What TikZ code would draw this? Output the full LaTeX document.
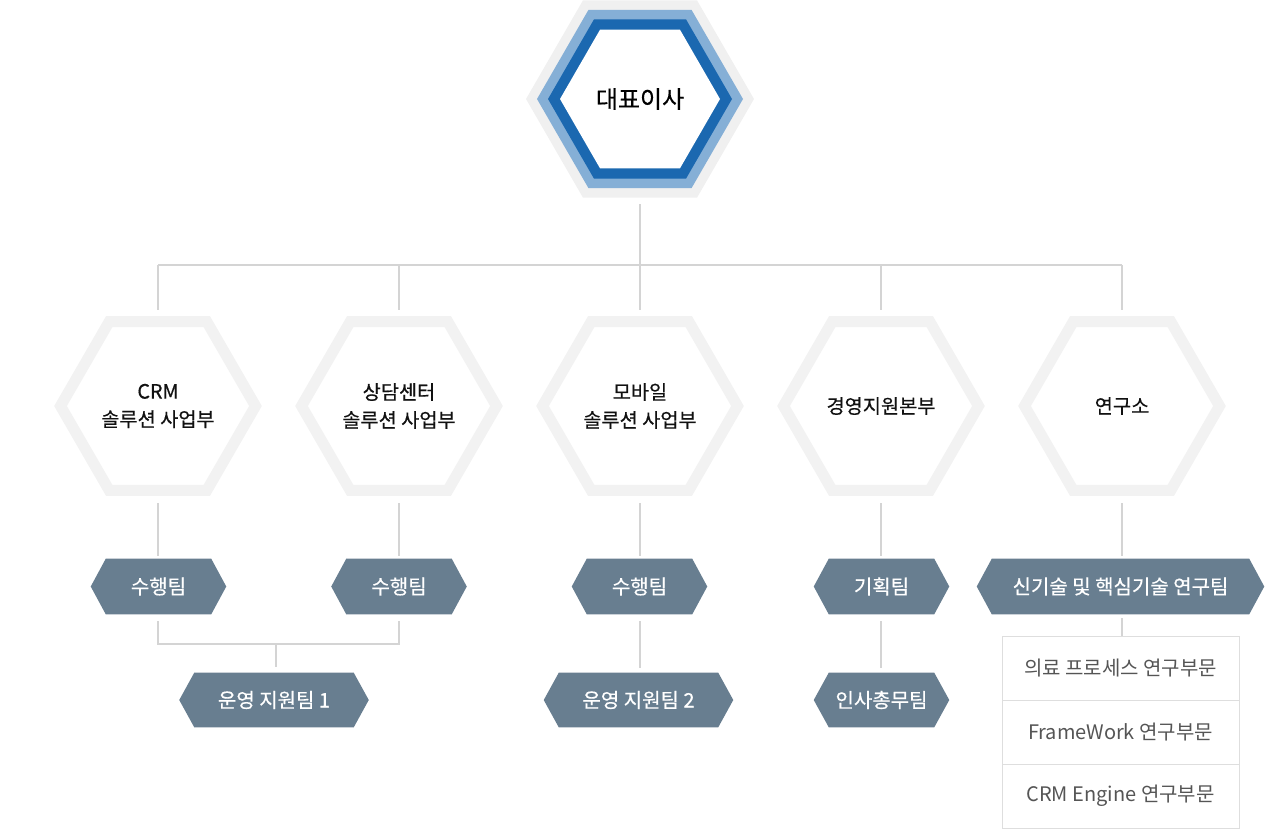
\documentclass[tikz,border=0pt]{standalone}
\usepackage{fontspec}
\setmainfont{Noto Sans CJK KR}
\newfontfamily\medfont{Noto Sans CJK KR}[AutoFakeBold=0.5]
\usetikzlibrary{backgrounds}
\definecolor{outergray}{HTML}{F0F0F0}
\definecolor{ringgray}{HTML}{F2F2F2}
\definecolor{lightblue}{HTML}{85AFD6}
\definecolor{darkblue}{HTML}{1B68B0}
\definecolor{tagfill}{HTML}{687E90}
\definecolor{linegray}{HTML}{D4D4D4}
\definecolor{boxline}{HTML}{DEDEDE}
\definecolor{boxtext}{HTML}{555555}
\definecolor{hextext}{HTML}{111111}
\newcommand\myhex[3]{\path[#1] ([shift={(0:#3)}]#2.center) -- ([shift={(60:#3)}]#2.center) -- ([shift={(120:#3)}]#2.center) -- ([shift={(180:#3)}]#2.center) -- ([shift={(240:#3)}]#2.center) -- ([shift={(300:#3)}]#2.center) -- cycle;}
\newcommand\mytag[1]{\fill[tagfill] (#1.west) -- ([xshift=11.25pt]#1.north west) -- ([xshift=-11.25pt]#1.north east) -- (#1.east) -- ([xshift=-11.25pt]#1.south east) -- ([xshift=11.25pt]#1.south west) -- cycle;}
\begin{document}
\begin{tikzpicture}[x=0.75pt,y=-0.75pt,
  hexlabel/.style={align=center,inner sep=0pt,text=hextext,font=\medfont\bfseries\fontsize{14.8}{21}\selectfont},
  ceolabel/.style={inner sep=0pt,text=black,font=\medfont\bfseries\fontsize{18}{22}\selectfont},
  tagnode/.style={inner sep=0pt,minimum height=41.25pt,text=white,font=\medfont\bfseries\fontsize{15}{18}\selectfont},
  boxrow/.style={draw=boxline,line width=0.75pt,inner sep=0pt,minimum width=177.75pt,minimum height=48pt,text=boxtext,font=\fontsize{15}{18}\selectfont},
  ringstyle/.style={draw=ringgray,fill=white,line width=8.25pt,line join=miter},
  conn/.style={draw=linegray,line width=0.9pt}]
\useasboundingbox (0,0) rectangle (1280,829);

% top node
\node[ceolabel] (ceo) at (640,99) {대표이사};

% department hexagons
\node[hexlabel] (crm) at (158,406) {CRM\\솔루션 사업부};
\node[hexlabel] (center) at (399,406) {상담센터\\솔루션 사업부};
\node[hexlabel] (mobile) at (640,406) {모바일\\솔루션 사업부};
\node[hexlabel] (mgmt) at (881,406) {경영지원본부};
\node[hexlabel] (lab) at (1122,406) {연구소};

% tags row 1
\node[tagnode,minimum width=101.25pt] (t1) at (158.5,586.5) {수행팀};
\node[tagnode,minimum width=101.25pt] (t2) at (399,586.5) {수행팀};
\node[tagnode,minimum width=101.25pt] (t3) at (639.5,586.5) {수행팀};
\node[tagnode,minimum width=101.25pt] (t4) at (881.5,586.5) {기획팀};
\node[tagnode,minimum width=215.25pt] (t5) at (1120.5,586.5) {신기술 및 핵심기술 연구팀};

% tags row 2
\node[tagnode,minimum width=141.75pt,minimum height=40.5pt] (u1) at (274,700) {운영 지원팀 1};
\node[tagnode,minimum width=141.75pt,minimum height=40.5pt] (u2) at (638.5,700) {운영 지원팀 2};
\node[tagnode,minimum width=101.25pt,minimum height=40.5pt] (u4) at (881.5,700) {인사총무팀};

% research list
\node[boxrow] (r1) at (1120.5,668) {의료 프로세스 연구부문};
\node[boxrow] (r2) at (1120.5,732) {FrameWork 연구부문};
\node[boxrow] (r3) at (1120.5,796) {CRM Engine 연구부문};

\begin{pgfonlayer}{background}
  \myhex{fill=outergray}{ceo}{114}
  \myhex{fill=lightblue}{ceo}{103}
  \myhex{fill=darkblue}{ceo}{92}
  \myhex{fill=white}{ceo}{80}
  \myhex{ringstyle}{crm}{97.5}
  \myhex{ringstyle}{center}{97.5}
  \myhex{ringstyle}{mobile}{97.5}
  \myhex{ringstyle}{mgmt}{97.5}
  \myhex{ringstyle}{lab}{97.5}
  \mytag{t1}\mytag{t2}\mytag{t3}\mytag{t4}\mytag{t5}
  \mytag{u1}\mytag{u2}\mytag{u4}
\end{pgfonlayer}

% connector coordinates
\coordinate (ceo-s) at (640,204);
\coordinate (bus-m) at (640,265);
\coordinate (bus-1) at (158,265);
\coordinate (bus-2) at (399,265);
\coordinate (bus-4) at (881,265);
\coordinate (bus-5) at (1122,265);
\coordinate (crm-n) at (158,310);
\coordinate (center-n) at (399,310);
\coordinate (mobile-n) at (640,310);
\coordinate (mgmt-n) at (881,310);
\coordinate (lab-n) at (1122,310);
\coordinate (crm-s) at (158,503);
\coordinate (center-s) at (399,503);
\coordinate (mobile-s) at (640,503);
\coordinate (mgmt-s) at (881,503);
\coordinate (lab-s) at (1122,503);
\coordinate (t1-in) at (158,556);
\coordinate (t2-in) at (399,556);
\coordinate (t3-in) at (640,556);
\coordinate (t4-in) at (881,556);
\coordinate (t5-in) at (1122,556);
\coordinate (t1-out) at (158,621);
\coordinate (t2-out) at (399,621);
\coordinate (t3-out) at (640,621);
\coordinate (t4-out) at (881,621);
\coordinate (t5-out) at (1122,618);
\coordinate (j1) at (158,644);
\coordinate (j2) at (399,644);
\coordinate (jm) at (276,644);
\coordinate (u1-in) at (276,667);
\coordinate (u2-in) at (640,668);
\coordinate (u4-in) at (881,668);
\coordinate (r1-in) at (1122,636);

\draw[conn] (ceo-s) -- (bus-m);
\draw[conn,line width=1.1pt] (bus-1) -- (bus-5);
\draw[conn] (bus-1) -- (crm-n);
\draw[conn] (bus-2) -- (center-n);
\draw[conn] (bus-m) -- (mobile-n);
\draw[conn] (bus-4) -- (mgmt-n);
\draw[conn] (bus-5) -- (lab-n);
\draw[conn] (crm-s) -- (t1-in);
\draw[conn] (center-s) -- (t2-in);
\draw[conn] (mobile-s) -- (t3-in);
\draw[conn] (mgmt-s) -- (t4-in);
\draw[conn] (lab-s) -- (t5-in);
\draw[conn] (t1-out) -- (j1) -- (j2) -- (t2-out);
\draw[conn] (jm) -- (u1-in);
\draw[conn] (t3-out) -- (u2-in);
\draw[conn] (t4-out) -- (u4-in);
\draw[conn] (t5-out) -- (r1-in);
\end{tikzpicture}
\end{document}
